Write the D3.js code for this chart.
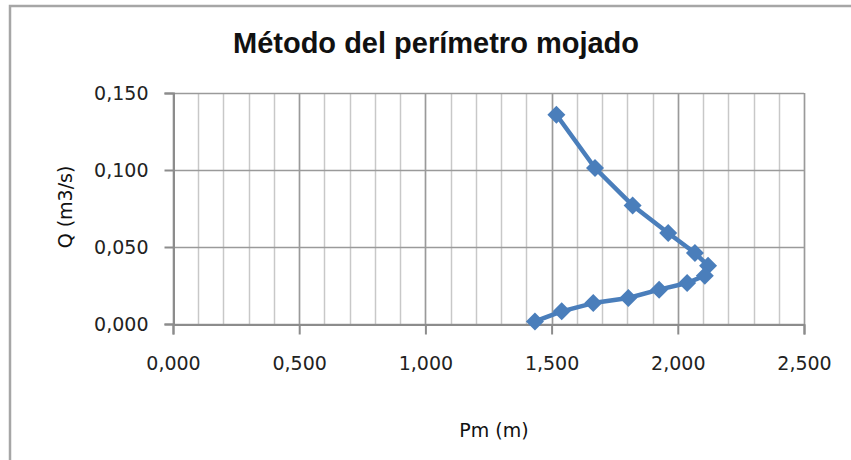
<!DOCTYPE html>
<html>
<head>
<meta charset="utf-8">
<script src="https://cdn.jsdelivr.net/npm/d3@7"></script>
<style>
  body { margin: 0; background: #fff; }
</style>
</head>
<body>
<div id="chart"></div>
<script>
(function () {
  // Pm (m) y Q (m3/s)
  var pm = [1.519, 1.672, 1.821, 1.962, 2.068, 2.120, 2.107, 2.037, 1.926, 1.804, 1.665, 1.540, 1.434];
  var q  = [0.1359, 0.1013, 0.0770, 0.0591, 0.0461, 0.0379, 0.0314, 0.0266, 0.0223, 0.0169, 0.0136, 0.0082, 0.0017];

  var xTicks = [0, 0.5, 1.0, 1.5, 2.0, 2.5];
  var xMinor = d3.range(0, 2.501, 0.1);
  var yTicks = [0, 0.05, 0.10, 0.15];

  var w = 851,
      h = 460;

  var left = 173, right = 804, top = 93, bottom = 324;

  var fmt = function (d) { return d3.format(".3f")(d).replace(".", ","); };

  var svg = d3.select("#chart")
      .append("svg")
      .attr("width", w)
      .attr("height", h);

  // marco del gráfico
  svg.append("rect")
      .attr("x", 10)
      .attr("y", 6)
      .attr("width", w + 20)
      .attr("height", h + 20)
      .attr("fill", "none")
      .attr("stroke", "#a6a6a6")
      .attr("stroke-width", 2.5);

  var x = d3.scaleLinear().domain([0, 2.5]).range([left, right]);
  var y = d3.scaleLinear().domain([0, 0.15]).range([bottom, top]);

  // rejilla secundaria
  svg.append("g")
      .selectAll("line")
      .data(xMinor)
      .enter()
      .append("line")
      .attr("x1", function(d) { return Math.round(x(d)) + 0.5; })
      .attr("x2", function(d) { return Math.round(x(d)) + 0.5; })
      .attr("y1", top)
      .attr("y2", bottom)
      .attr("stroke", "#c8c8c8")
      .attr("stroke-width", 1.5);

  // rejilla principal vertical
  svg.append("g")
      .selectAll("line")
      .data(xTicks)
      .enter()
      .append("line")
      .attr("x1", function(d) { return Math.round(x(d)) + 0.5; })
      .attr("x2", function(d) { return Math.round(x(d)) + 0.5; })
      .attr("y1", top)
      .attr("y2", bottom)
      .attr("stroke", "#9a9a9a")
      .attr("stroke-width", 1.5);

  // rejilla horizontal
  svg.append("g")
      .selectAll("line")
      .data(yTicks)
      .enter()
      .append("line")
      .attr("x1", left)
      .attr("x2", right)
      .attr("y1", function(d) { return Math.round(y(d)) + 0.5; })
      .attr("y2", function(d) { return Math.round(y(d)) + 0.5; })
      .attr("stroke", "#9a9a9a")
      .attr("stroke-width", 1.5);

  // ejes
  var xAxis = svg.append("g")
      .attr("transform", "translate(0," + (Math.round(y(0)) + 0.5) + ")")
      .call(d3.axisBottom(x).tickValues(xTicks).tickSize(10).tickPadding(22).tickFormat(fmt));

  var yAxis = svg.append("g")
      .attr("transform", "translate(" + (Math.round(x(0)) + 0.5) + ",0)")
      .call(d3.axisLeft(y).tickValues(yTicks).tickSize(9).tickPadding(16).tickFormat(fmt));

  [xAxis, yAxis].forEach(function (g) {
    g.select(".domain").attr("stroke", "#8c8c8c").attr("stroke-width", 2);
    g.selectAll(".tick line").attr("stroke", "#8c8c8c").attr("stroke-width", 2);
    g.selectAll(".tick text")
        .attr("font-family", "DejaVu Sans, Verdana, sans-serif")
        .attr("font-size", "19px")
        .attr("fill", "#222");
  });
  yAxis.selectAll(".tick text").attr("dy", "0.35em");

  // serie
  var line = d3.line()
      .x(function(d, i) { return x(pm[i]); })
      .y(function(d, i) { return y(q[i]); });

  svg.append("path")
      .datum(q)
      .attr("d", line)
      .attr("fill", "none")
      .attr("stroke", "#4a7ebb")
      .attr("stroke-width", 4.5)
      .attr("stroke-linejoin", "round");

  var r = 9;
  svg.selectAll(".pt")
      .data(q)
      .enter()
      .append("path")
      .attr("class", "pt")
      .attr("d", function(d, i) {
        var cx = x(pm[i]), cy = y(d);
        return "M" + cx + "," + (cy - r) + "L" + (cx + r) + "," + cy +
               "L" + cx + "," + (cy + r) + "L" + (cx - r) + "," + cy + "Z";
      })
      .attr("fill", "#4a7ebb");

  // títulos
  svg.append("text")
      .text("Método del perímetro mojado")
      .attr("x", 436)
      .attr("y", 53)
      .attr("text-anchor", "middle")
      .attr("font-family", "Liberation Sans, Arial, sans-serif")
      .attr("font-weight", "bold")
      .attr("font-size", "29px")
      .attr("fill", "#111");

  svg.append("text")
      .text("Pm (m)")
      .attr("x", 494)
      .attr("y", 437)
      .attr("text-anchor", "middle")
      .attr("font-family", "DejaVu Sans, Verdana, sans-serif")
      .attr("font-size", "19px")
      .attr("fill", "#111");

  svg.append("text")
      .text("Q (m3/s)")
      .attr("transform", "translate(72,207) rotate(-90)")
      .attr("text-anchor", "middle")
      .attr("font-family", "DejaVu Sans, Verdana, sans-serif")
      .attr("font-size", "19px")
      .attr("fill", "#111");
})();
</script>
</body>
</html>
